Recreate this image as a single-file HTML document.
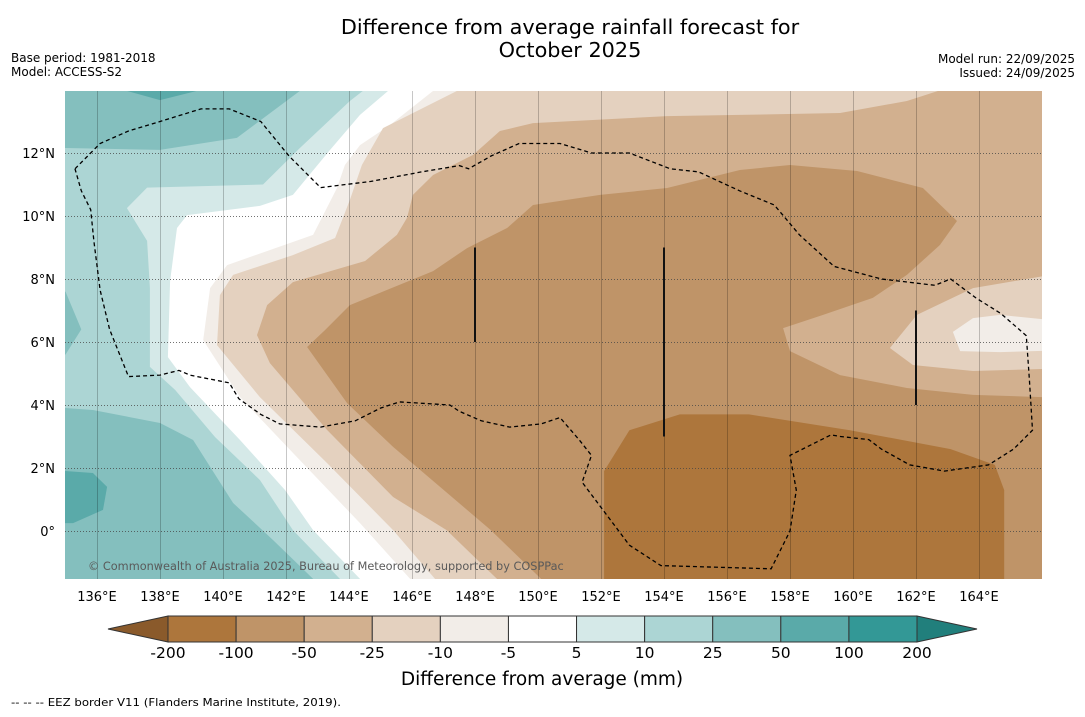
<!DOCTYPE html>
<html><head><meta charset="utf-8">
<style>
body{margin:0;background:#fff;font-family:"DejaVu Sans","Liberation Sans",sans-serif;}
svg text{font-family:"DejaVu Sans","Liberation Sans",sans-serif;}
</style></head>
<body>
<svg id="chart" width="1085" height="713" viewBox="0 0 1085 713" xmlns="http://www.w3.org/2000/svg">
<rect width="1085" height="713" fill="#fff"/>
<text x="570" y="34" font-size="20.8" text-anchor="middle">Difference from average rainfall forecast for</text>
<text x="570" y="57" font-size="20.8" text-anchor="middle">October 2025</text>
<text x="11" y="62" font-size="12">Base period: 1981-2018</text>
<text x="11" y="76" font-size="12">Model: ACCESS-S2</text>
<text x="1075" y="63" font-size="12" text-anchor="end">Model run: 22/09/2025</text>
<text x="1075" y="77" font-size="12" text-anchor="end">Issued: 24/09/2025</text>
<defs><clipPath id="mapclip"><rect x="65" y="91" width="977" height="488"/></clipPath></defs>
<g id="map" clip-path="url(#mapclip)"></g>
<g id="axes"></g>
<g id="cbar"></g>
<text x="542" y="685" font-size="18.5" text-anchor="middle">Difference from average (mm)</text>
<text x="11" y="706" font-size="11" textLength="330" lengthAdjust="spacingAndGlyphs">--  --  -- EEZ border V11 (Flanders Marine Institute, 2019).</text>
</svg>
<script>
const lonTicks=[136,138,140,142,144,146,148,150,152,154,156,158,160,162,164];
const latTicks=[0,2,4,6,8,10,12];
const cbLevels=[-200,-100,-50,-25,-10,-5,5,10,25,50,100,200];
const cbColors=['#ad763c','#bf9468','#d2b08f','#e4d1bf','#f2ede8','#ffffff','#d5e9e8','#acd5d4','#84bfbe','#5aaaa9','#339896'];
const R=[[167,-2],[167,14.5]];
const regPale=[[144.6,14.5],[144.44,13.97],[144.03,13.65],[142.44,12.16],[141.27,11.0],[137.59,10.9],[136.95,10.25],[137.59,9.21],[137.68,7.71],[137.68,5.21],[138.48,4.48],[139.75,2.98],[141.17,1.62],[142.22,0.03],[143.71,-1.52],[143.9,-2]];
const regWhite=[[145.5,14.5],[145.24,13.97],[144.35,13.21],[143.4,12.1],[142.22,10.67],[141.17,10.32],[138.86,10.03],[138.54,9.62],[138.32,7.94],[138.25,5.52],[138.95,4.57],[140.54,2.89],[141.97,1.3],[142.86,0.03],[144.35,-1.52],[144.5,-2]];
const regM5=[[147.0,14.5],[146.67,13.97],[145.3,12.89],[144.35,12.25],[143.87,11.62],[143.62,10.89],[142.86,9.4],[140.13,8.44],[139.59,7.71],[139.37,6.06],[140.54,4.25],[142.22,2.48],[144.35,0.25],[145.94,-1.52],[146.2,-2]];
const regM10=[[147.7,14.5],[147.43,13.97],[145.08,12.79],[144.41,11.62],[144.03,10.51],[143.56,9.3],[142.22,8.76],[140.32,8.13],[139.9,7.49],[139.81,5.9],[141.17,4.25],[143.3,2.16],[145.4,0.03],[146.73,-1.52],[147.0,-2]];
const regM25=[[163.1,14.5],[162.98,14.06],[161.71,13.65],[159.59,13.27],[156.41,13.21],[154.1,13.17],[149.84,12.95],[148.79,12.7],[147.94,11.94],[146.67,11.3],[146.03,10.67],[145.84,9.94],[145.52,9.4],[144.51,8.57],[142.22,7.9],[141.4,7.17],[141.08,6.22],[141.49,5.33],[143.3,3.21],[145.4,1.08],[147.1,0.03],[148.7,-1.52],[148.9,-2]];
const regM50=[[167,4.22],[163.81,4.32],[161.71,4.54],[159.59,4.95],[158.0,5.71],[157.78,6.44],[159.05,6.86],[160.63,7.4],[161.71,8.13],[162.76,9.08],[163.3,9.84],[162.22,10.89],[160.13,11.43],[158.0,11.62],[156.41,11.46],[154.1,10.89],[151.97,10.67],[149.84,10.35],[149.02,9.62],[147.75,8.98],[146.67,8.25],[144.03,7.17],[143.24,6.38],[142.67,5.84],[143.94,4.06],[145.4,2.67],[148.5,0.03],[150.1,-1.52],[150.3,-2],[167,-2]];
const tongue10=[[167,8.25],[163.81,7.71],[162.03,6.86],[161.17,5.81],[161.9,5.27],[163.81,5.08],[167,5.17]];
const tongue5=[[163.17,6.32],[163.81,6.76],[164.67,6.86],[167,6.63],[167,5.75],[164.67,5.68],[163.4,5.71]];
const regM100=[[152.1,-2],[152.1,1.9],[152.9,3.2],[154.5,3.7],[156.7,3.7],[159.9,3.2],[163.1,2.6],[164.5,2.1],[164.8,1.3],[164.8,-2]];
const tealTop=[[134.5,14.5],[142.6,14.5],[142.44,13.97],[140.44,12.48],[138.0,12.1],[135.0,12.16],[134.5,12.16]];
const tealTop2=[[136.95,14.5],[136.95,13.97],[138.0,13.68],[139.17,13.97],[139.17,14.5]];
const tealMid=[[134.5,7.6],[135.0,7.6],[135.5,6.4],[135.0,5.6],[134.5,5.6]];
const tealLow=[[134.5,3.94],[135.87,3.84],[138.0,3.43],[139.05,2.89],[140.32,0.89],[141.59,-0.29],[142.86,-1.52],[143.0,-2],[134.5,-2]];
const tealLow2=[[134.5,1.94],[135.87,1.84],[136.32,1.4],[136.19,0.67],[135.24,0.25],[134.5,0.25]];
const eez=[[135.3,11.5],[136.1,12.3],[137.0,12.7],[138.0,13.0],[139.3,13.4],[140.2,13.4],[141.2,13.0],[142.1,11.9],[143.1,10.9],[144.7,11.1],[146.3,11.4],[147.5,11.6],[147.8,11.5],[148.5,11.9],[149.4,12.3],[150.7,12.3],[151.7,12.0],[152.9,12.0],[154.2,11.5],[155.1,11.4],[156.4,10.8],[157.5,10.35],[158.3,9.4],[159.4,8.4],[160.9,8.0],[162.6,7.8],[163.1,8.0],[163.9,7.4],[164.7,6.9],[165.5,6.2],[165.6,4.8],[165.7,3.2],[165.1,2.6],[164.3,2.1],[162.9,1.9],[161.8,2.1],[160.9,2.6],[160.5,2.9],[159.6,3.0],[159.3,3.05],[158.6,2.7],[158.0,2.4],[158.2,1.3],[158.0,0.0],[157.4,-1.2],[153.9,-1.1],[152.9,-0.45],[152.3,0.35],[151.4,1.55],[151.7,2.4],[151.3,2.9],[150.7,3.6],[150.1,3.4],[149.1,3.3],[148.2,3.5],[147.5,3.8],[147.2,4.0],[145.6,4.1],[145.0,3.9],[144.2,3.5],[143.1,3.3],[141.8,3.4],[141.2,3.7],[140.5,4.2],[140.2,4.7],[138.95,4.95],[138.6,5.1],[138.0,4.95],[137.0,4.9],[136.4,6.4],[136.1,7.65],[135.9,9.2],[135.8,10.2],[135.5,10.8],[135.3,11.5]];
const segLons=[148,154,162];
const segLat0=[6,3,4];
const segLat1=[9,9,7];

const NS='http://www.w3.org/2000/svg';
const X=lon=>97+(lon-136)*31.5;
const Y=lat=>531-lat*31.5;
function mk(tag,attrs,parent){const e=document.createElementNS(NS,tag);for(const k in attrs)e.setAttribute(k,attrs[k]);parent.appendChild(e);return e;}
const map=document.getElementById('map');
const bg=mk('rect',{x:65,y:91,width:977,height:488,fill:cbColors[7]},map);


function poly(pts,color,name,closeRight){
  const p=closeRight?pts.concat(R):pts;
  const e=mk('polygon',{points:p.map(q=>X(q[0]).toFixed(1)+','+Y(q[1]).toFixed(1)).join(' '),fill:color},map);
  
  
}
poly(tealTop,cbColors[8],'contour-25-50-north',false);
poly(tealTop2,cbColors[9],'contour-50-100-north',false);
poly(tealMid,cbColors[8],'contour-25-50-west',false);
poly(tealLow,cbColors[8],'contour-25-50-south',false);
poly(tealLow2,cbColors[9],'contour-50-100-south',false);
poly(regPale,cbColors[6],'contour-5-10',true);
poly(regWhite,cbColors[5],'contour-neutral',true);
poly(regM5,cbColors[4],'contour-minus5-10',true);
poly(regM10,cbColors[3],'contour-minus10-25',true);
poly(regM25,cbColors[2],'contour-minus25-50',true);
poly(regM50,cbColors[1],'contour-minus50-100',false);
poly(tongue10,cbColors[3],'contour-minus10-25-east',false);
poly(tongue5,cbColors[4],'contour-minus5-10-east',false);
poly(regM100,cbColors[0],'contour-minus100-200',false);
lonTicks.forEach(l=>{const g=mk('line',{x1:X(l)+0.5,x2:X(l)+0.5,y1:91,y2:579,stroke:'rgba(0,0,0,0.22)','stroke-width':1},map);

});
latTicks.forEach(l=>{const g=mk('line',{x1:65,x2:1042,y1:Y(l)+0.5,y2:Y(l)+0.5,stroke:'#444','stroke-width':0.8,'stroke-dasharray':'1,2'},map);

});
const ez=mk('polyline',{points:eez.map(q=>X(q[0]).toFixed(1)+','+Y(q[1]).toFixed(1)).join(' '),fill:'none',stroke:'#000','stroke-width':1.3,'stroke-dasharray':'4,3'},map);


segLons.forEach((l,i)=>{const s=mk('line',{x1:X(l),x2:X(l),y1:Y(segLat0[i]),y2:Y(segLat1[i]),stroke:'#111','stroke-width':2},map);

});
const cp=mk('text',{x:88,y:570,'font-size':11.3,fill:'#5a5a5a'},map);cp.textContent='© Commonwealth of Australia 2025, Bureau of Meteorology, supported by COSPPac';


const axes=document.getElementById('axes');
lonTicks.forEach(l=>{const t=mk('text',{x:X(l),y:601,'font-size':13,'text-anchor':'middle'},axes);t.textContent=l+'°E';

});
latTicks.forEach(l=>{const t=mk('text',{x:55,y:Y(l)+5,'font-size':13,'text-anchor':'end'},axes);t.textContent=l===0?'0°':l+'°N';

});
const cb=document.getElementById('cbar');
const cx0=168,cx1=917,cy=616,ch=26,n=cbColors.length,bw=(cx1-cx0)/n;
const la=mk('polygon',{points:`${cx0},${cy} ${cx0},${cy+ch} 108,${cy+ch/2}`,fill:'#8a5a2b',stroke:'#333','stroke-width':1},cb);


const ra=mk('polygon',{points:`${cx1},${cy} ${cx1},${cy+ch} 977,${cy+ch/2}`,fill:'#217f7c',stroke:'#333','stroke-width':1},cb);


cbColors.forEach((c,i)=>{const r=mk('rect',{x:cx0+i*bw,y:cy,width:bw,height:ch,fill:c,stroke:'#333','stroke-width':1},cb);

});
cbLevels.forEach((v,i)=>{const t=mk('text',{x:cx0+i*bw,y:658,'font-size':15.5,'text-anchor':'middle'},cb);t.textContent=v;

});
</script>
</body></html>
